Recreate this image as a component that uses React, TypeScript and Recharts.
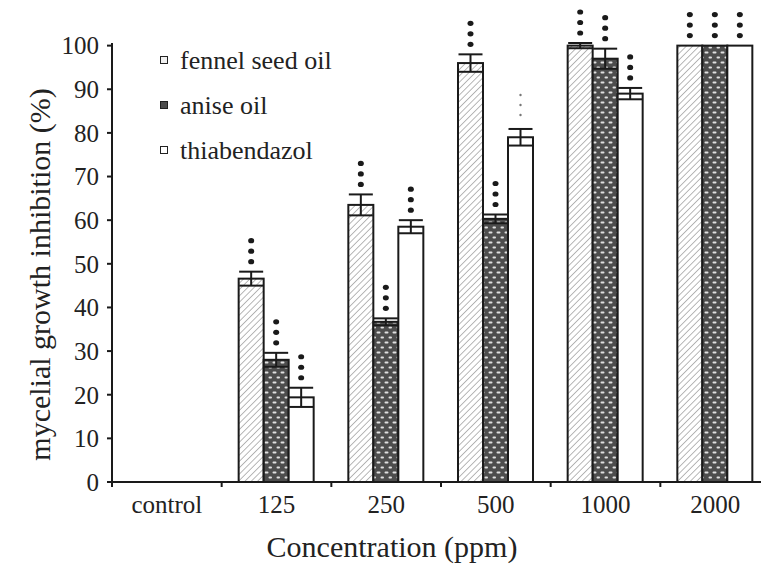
import React from "react";
import { BarChart, Bar, XAxis, YAxis, ErrorBar, Label } from "recharts";

const FONT = '"Liberation Serif", "Times New Roman", serif';

const categories = ["control", "125", "250", "500", "1000", "2000"];

const fennel = [null, 46.6, 63.5, 96, 100, 100];
const fennelErr = [null, 1.6, 2.4, 2, 0.6, 0];
const fennelSig = ["", "***", "***", "***", "***", "***"];

const anise = [null, 28, 36.7, 60.3, 97, 100];
const aniseErr = [null, 1.6, 0.8, 1, 2.3, 0];
const aniseSig = ["", "***", "***", "***", "***", "***"];

const thia = [null, 19.4, 58.5, 79, 89, 100];
const thiaErr = [null, 2.2, 1.5, 1.9, 1.3, 0];
const thiaSig = ["", "***", "***", "...", "***", "***"];

const yTicks = [0, 10, 20, 30, 40, 50, 60, 70, 80, 90, 100];

const seriesNames = ["fennel seed oil", "anise oil", "thiabendazol"];

const data = categories.map((c, i) => ({
  name: c,
  fennel: fennel[i],
  fennelErr: fennelErr[i],
  fennelSig: fennelSig[i],
  anise: anise[i],
  aniseErr: aniseErr[i],
  aniseSig: aniseSig[i],
  thia: thia[i],
  thiaErr: thiaErr[i],
  thiaSig: thiaSig[i],
}));

const series = [
  { key: "fennel", fill: "url(#hatch)", swatch: "#f0f0f0" },
  { key: "anise", fill: "url(#dots)", swatch: "#4d4d4d" },
  { key: "thia", fill: "#ffffff", swatch: "#ffffff" },
];

// bar rect + the significance marks stacked above its error bar
const makeShape = (key: string, fill: string) => (props: any) => {
  const { x, y, width, height, payload } = props;
  const v = payload[key];
  if (v == null || !height) return <g />;
  const perUnit = height / v;
  const errTop = y - (payload[key + "Err"] || 0) * perUnit;
  const cx = x + width / 2;
  const sig = payload[key + "Sig"];
  const marks =
    sig === "***"
      ? [10, 20.5, 31].map((d) => (
          <ellipse key={d} cx={cx} cy={errTop - d} rx={3} ry={2.6} fill="#1a1a1a" />
        ))
      : sig === "..."
      ? [14, 24, 34].map((d) => (
          <circle key={d} cx={cx} cy={errTop - d} r={1.2} fill="#777" />
        ))
      : null;
  return (
    <g>
      <rect x={x} y={y} width={width} height={height} fill={fill} stroke="#1a1a1a" strokeWidth={2} />
      {marks}
    </g>
  );
};

const XTick = (props: any) => {
  const { x, y, payload } = props;
  const half = payload && payload.offset ? payload.offset : 54.8;
  return (
    <g>
      <line x1={x - half} x2={x - half} y1={y} y2={y + 5} stroke="#1a1a1a" strokeWidth={2} />
      <text x={x} y={y + 31} textAnchor="middle" fontFamily={FONT} fontSize={25} fill="#222">
        {payload.value}
      </text>
    </g>
  );
};

export default function App() {
  return (
    <div
      style={{
        position: "fixed",
        left: 0,
        top: 0,
        width: 761,
        height: 567,
        overflow: "hidden",
        background: "#fff",
        fontFamily: FONT,
      }}
    >
      <svg width={0} height={0} style={{ position: "absolute" }}>
        <defs>
          <pattern id="hatch" width={4.5} height={4.5} patternUnits="userSpaceOnUse" patternTransform="rotate(45)">
            <rect width={4.5} height={4.5} fill="#ffffff" />
            <line x1={0} y1={0} x2={0} y2={4.5} stroke="#9a9a9a" strokeWidth={1.4} />
          </pattern>
          <pattern id="dots" width={8} height={10} patternUnits="userSpaceOnUse">
            <rect width={8} height={10} fill="#4d4d4d" />
            <rect x={0.5} y={1.5} width={4} height={2} rx={1} fill="#e0e0e0" />
            <rect x={4.5} y={6.5} width={3.5} height={2} rx={1} fill="#e0e0e0" />
          </pattern>
        </defs>
      </svg>

      <BarChart
        width={780}
        height={567}
        data={data}
        margin={{ top: 43, right: 10, bottom: 0, left: 0 }}
        barSize={25}
        barGap={0}
      >
        <XAxis
          dataKey="name"
          height={85}
          axisLine={{ stroke: "#1a1a1a", strokeWidth: 2 }}
          tickLine={false}
          tickSize={0}
          tickMargin={0}
          tick={<XTick />}
          interval={0}
        >
          <Label
            value="Concentration (ppm)"
            position="insideBottom"
            offset={10}
            dx={-49}
            fontFamily={FONT}
            fontSize={30}
            fill="#222"
          />
        </XAxis>
        <YAxis
          width={112}
          domain={[0, 100]}
          ticks={yTicks}
          interval={0}
          axisLine={{ stroke: "#1a1a1a", strokeWidth: 2 }}
          tickLine={{ stroke: "#1a1a1a", strokeWidth: 2 }}
          tickSize={5}
          tickMargin={8}
          tick={{ fontFamily: FONT, fontSize: 25, fill: "#222" }}
        >
          <Label
            value="mycelial growth inhibition (%)"
            angle={-90}
            position="insideLeft"
            offset={39}
            dy={12}
            fontFamily={FONT}
            fontSize={30}
            fill="#222"
            style={{ textAnchor: "middle" }}
          />
        </YAxis>
        {series.map((s) => (
          <Bar
            key={s.key}
            dataKey={s.key}
            fill={s.fill}
            isAnimationActive={false}
            shape={makeShape(s.key, s.fill)}
          >
            <ErrorBar dataKey={s.key + "Err"} width={12} stroke="#1a1a1a" strokeWidth={2} />
          </Bar>
        ))}
      </BarChart>

      <div style={{ position: "absolute", left: 160, top: 37.5 }}>
        {seriesNames.map((n, i) => (
          <div key={n} style={{ display: "flex", alignItems: "center", height: 45 }}>
            <div
              style={{
                width: 8,
                height: 8,
                boxSizing: "border-box",
                border: "1.5px solid #222",
                background: series[i].swatch,
                marginRight: 12,
              }}
            />
            <span style={{ fontSize: 26, lineHeight: "45px", color: "#222" }}>{n}</span>
          </div>
        ))}
      </div>
    </div>
  );
}
